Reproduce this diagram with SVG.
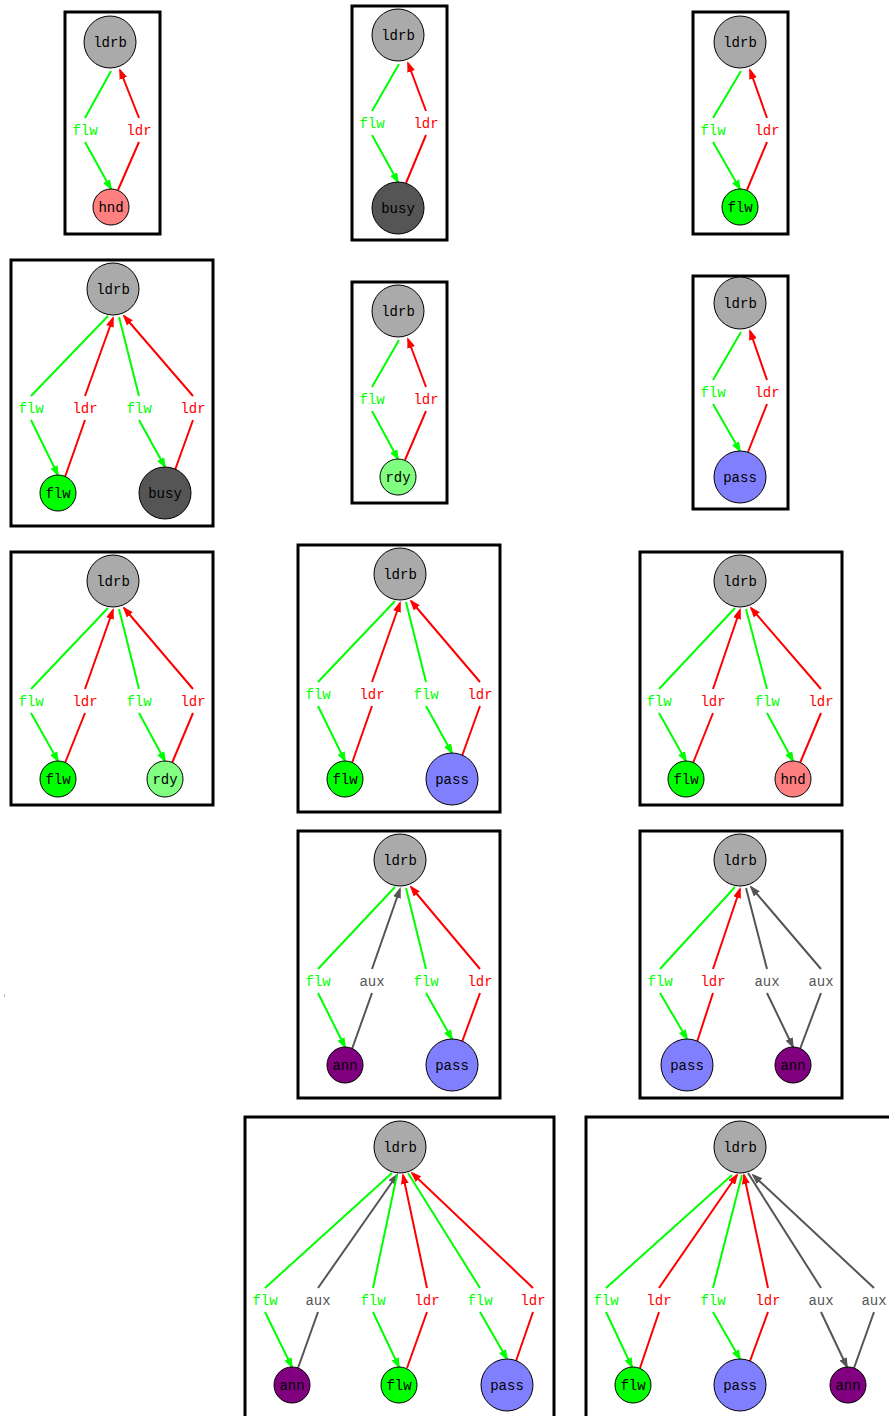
<svg xmlns="http://www.w3.org/2000/svg" width="889" height="1416" viewBox="0 0 889 1416">
<style>
.box{fill:#fff;stroke:#000;stroke-width:3}
.n{stroke:#000;stroke-width:1}
.t{font-family:"Liberation Mono","DejaVu Sans Mono",monospace;font-size:14px;text-anchor:middle;fill:#000}
.el{font-family:"Liberation Mono","DejaVu Sans Mono",monospace;font-size:14px;text-anchor:middle}
.g{fill:none;stroke:#00ff00;stroke-width:2;marker-end:url(#ag)}
.r{fill:none;stroke:#ff0000;stroke-width:2;marker-end:url(#ar)}
.a{fill:none;stroke:#555555;stroke-width:2;marker-end:url(#aa)}
.lg{fill:#00ff00}.lr{fill:#ff0000}.la{fill:#555555}
.ldrb{fill:#aaaaaa}.flw{fill:#00ff00}.busy{fill:#555555}.rdy{fill:#80ff80}.hnd{fill:#ff8080}.pass{fill:#8080ff}.ann{fill:#800080}
</style>
<defs>
<marker id="ag" markerUnits="userSpaceOnUse" markerWidth="11" markerHeight="8" viewBox="0 0 11 8" refX="9" refY="4" orient="auto"><path d="M0,0 L11,4 L0,8 z" fill="#00ff00"/></marker>
<marker id="ar" markerUnits="userSpaceOnUse" markerWidth="11" markerHeight="8" viewBox="0 0 11 8" refX="9" refY="4" orient="auto"><path d="M0,0 L11,4 L0,8 z" fill="#ff0000"/></marker>
<marker id="aa" markerUnits="userSpaceOnUse" markerWidth="11" markerHeight="8" viewBox="0 0 11 8" refX="9" refY="4" orient="auto"><path d="M0,0 L11,4 L0,8 z" fill="#555555"/></marker>
</defs>
<rect width="889" height="1416" fill="#fff"/>
<line x1="4.5" y1="994" x2="4.5" y2="997" stroke="#bbbbbb" stroke-width="1"/>

<g id="clusters">
<rect class="box" x="65" y="12" width="95" height="222"/>
<rect class="box" x="352" y="6" width="95" height="234"/>
<rect class="box" x="693" y="12" width="95" height="222"/>
<rect class="box" x="11" y="260" width="202" height="266"/>
<rect class="box" x="352" y="282" width="95" height="221"/>
<rect class="box" x="693" y="276" width="95" height="233"/>
<rect class="box" x="11" y="552" width="202" height="253"/>
<rect class="box" x="298" y="545" width="202" height="267"/>
<rect class="box" x="640" y="552" width="202" height="253"/>
<rect class="box" x="298" y="831" width="202" height="267"/>
<rect class="box" x="640" y="831" width="202" height="267"/>
<rect class="box" x="245" y="1117" width="309" height="310"/>
<rect class="box" x="586" y="1117" width="310" height="310"/>
</g>

<g id="connectors">
<!-- P1 -->
<path class="g" d="M111,71 L85,118 M85,142 L111,189"/>
<path class="r" d="M118,190 L139,142 M139,118 L120,70"/>
<!-- P2 -->
<path class="g" d="M399,64 L372,111 M372,135 L398,182"/>
<path class="r" d="M406,183 L426,135 M426,111 L408,63"/>
<!-- P3 -->
<path class="g" d="M741,71 L713,118 M713,142 L740,189"/>
<path class="r" d="M747,190 L767,142 M767,118 L750,70"/>
<!-- P5 -->
<path class="g" d="M399,340 L372,387 M372,411 L398,459"/>
<path class="r" d="M405,460 L426,411 M426,387 L408,339"/>
<!-- P6 -->
<path class="g" d="M741,332 L713,380 M713,404 L740,451"/>
<path class="r" d="M748,452 L767,404 M767,380 L750,331"/>
<!-- P4 -->
<path class="g" d="M108,316 L31,396 M31,420 L58,475"/>
<path class="r" d="M65,477 L85,420 M85,396 L113,318"/>
<path class="g" d="M119,317 L139,396 M139,420 L165,467"/>
<path class="r" d="M175,470 L193,420 M193,396 L124,316"/>
<!-- P7 -->
<path class="g" d="M108,608 L31,689 M31,713 L58,761"/>
<path class="r" d="M65,763 L85,713 M85,689 L113,610"/>
<path class="g" d="M119,609 L139,689 M139,713 L165,761"/>
<path class="r" d="M172,763 L193,713 M193,689 L124,608"/>
<!-- P8 -->
<path class="g" d="M395,601 L318,682 M318,706 L345,761"/>
<path class="r" d="M352,763 L372,706 M372,682 L400,603"/>
<path class="g" d="M406,602 L426,682 M426,706 L452,753"/>
<path class="r" d="M462,756 L480,706 M480,682 L411,601"/>
<!-- P9 -->
<path class="g" d="M735,608 L659,689 M659,713 L686,761"/>
<path class="r" d="M693,763 L713,713 M713,689 L740,610"/>
<path class="g" d="M746,609 L767,689 M767,713 L793,761"/>
<path class="r" d="M800,763 L821,713 M821,689 L751,608"/>
<!-- P10 -->
<path class="g" d="M395,887 L318,969 M318,993 L345,1047"/>
<path class="a" d="M352,1049 L372,993 M372,969 L400,889"/>
<path class="g" d="M406,888 L426,969 M426,993 L452,1039"/>
<path class="r" d="M462,1042 L480,993 M480,969 L411,887"/>
<!-- P11 -->
<path class="g" d="M735,887 L660,969 M660,993 L687,1039"/>
<path class="r" d="M697,1042 L713,993 M713,969 L740,889"/>
<path class="a" d="M746,888 L767,969 M767,993 L793,1047"/>
<path class="a" d="M800,1049 L821,993 M821,969 L751,887"/>
<!-- P12 -->
<path class="g" d="M392,1173 L265,1288 M265,1312 L292,1367"/>
<path class="a" d="M298,1368 L318,1312 M318,1288 L397,1175"/>
<path class="g" d="M397,1175 L373,1288 M373,1312 L399,1367"/>
<path class="r" d="M407,1368 L427,1312 M427,1288 L403,1175"/>
<path class="g" d="M408,1173 L480,1288 M480,1312 L507,1359"/>
<path class="r" d="M516,1361 L533,1312 M533,1288 L412,1173"/>
<!-- P13 -->
<path class="g" d="M732,1175 L606,1288 M606,1312 L632,1367"/>
<path class="r" d="M640,1368 L659,1312 M659,1288 L737,1175"/>
<path class="g" d="M742,1175 L713,1288 M713,1312 L740,1359"/>
<path class="r" d="M750,1361 L768,1312 M768,1288 L744,1175"/>
<path class="a" d="M748,1173 L821,1288 M821,1312 L847,1367"/>
<path class="a" d="M854,1368 L874,1312 M874,1288 L753,1175"/>
</g>

<g id="edge-labels">
<text class="el lg" x="85" y="135">flw</text><text class="el lr" x="139" y="135">ldr</text>
<text class="el lg" x="372" y="128">flw</text><text class="el lr" x="426" y="128">ldr</text>
<text class="el lg" x="713" y="135">flw</text><text class="el lr" x="767" y="135">ldr</text>
<text class="el lg" x="372" y="404">flw</text><text class="el lr" x="426" y="404">ldr</text>
<text class="el lg" x="713" y="397">flw</text><text class="el lr" x="767" y="397">ldr</text>
<text class="el lg" x="31" y="413">flw</text><text class="el lr" x="85" y="413">ldr</text><text class="el lg" x="139" y="413">flw</text><text class="el lr" x="193" y="413">ldr</text>
<text class="el lg" x="31" y="706">flw</text><text class="el lr" x="85" y="706">ldr</text><text class="el lg" x="139" y="706">flw</text><text class="el lr" x="193" y="706">ldr</text>
<text class="el lg" x="318" y="699">flw</text><text class="el lr" x="372" y="699">ldr</text><text class="el lg" x="426" y="699">flw</text><text class="el lr" x="480" y="699">ldr</text>
<text class="el lg" x="659" y="706">flw</text><text class="el lr" x="713" y="706">ldr</text><text class="el lg" x="767" y="706">flw</text><text class="el lr" x="821" y="706">ldr</text>
<text class="el lg" x="318" y="986">flw</text><text class="el la" x="372" y="986">aux</text><text class="el lg" x="426" y="986">flw</text><text class="el lr" x="480" y="986">ldr</text>
<text class="el lg" x="660" y="986">flw</text><text class="el lr" x="713" y="986">ldr</text><text class="el la" x="767" y="986">aux</text><text class="el la" x="821" y="986">aux</text>
<text class="el lg" x="265" y="1305">flw</text><text class="el la" x="318" y="1305">aux</text><text class="el lg" x="373" y="1305">flw</text><text class="el lr" x="427" y="1305">ldr</text><text class="el lg" x="480" y="1305">flw</text><text class="el lr" x="533" y="1305">ldr</text>
<text class="el lg" x="606" y="1305">flw</text><text class="el lr" x="659" y="1305">ldr</text><text class="el lg" x="713" y="1305">flw</text><text class="el lr" x="768" y="1305">ldr</text><text class="el la" x="821" y="1305">aux</text><text class="el la" x="874" y="1305">aux</text>
</g>

<g id="p1-ldrb"><circle class="n ldrb" cx="110" cy="42" r="26"/><text class="t" x="110" y="47">ldrb</text></g>
<g id="p1-hnd"><circle class="n hnd" cx="111" cy="207" r="18"/><text class="t" x="111" y="212">hnd</text></g>
<g id="p2-ldrb"><circle class="n ldrb" cx="398" cy="35" r="26"/><text class="t" x="398" y="40">ldrb</text></g>
<g id="p2-busy"><circle class="n busy" cx="398" cy="208" r="26"/><text class="t" x="398" y="213">busy</text></g>
<g id="p3-ldrb"><circle class="n ldrb" cx="740" cy="42" r="26"/><text class="t" x="740" y="47">ldrb</text></g>
<g id="p3-flw"><circle class="n flw" cx="740" cy="207" r="18"/><text class="t" x="740" y="212">flw</text></g>
<g id="p4-ldrb"><circle class="n ldrb" cx="113" cy="289" r="26"/><text class="t" x="113" y="294">ldrb</text></g>
<g id="p4-flw"><circle class="n flw" cx="58" cy="493" r="18"/><text class="t" x="58" y="498">flw</text></g>
<g id="p4-busy"><circle class="n busy" cx="165" cy="493" r="26"/><text class="t" x="165" y="498">busy</text></g>
<g id="p5-ldrb"><circle class="n ldrb" cx="398" cy="311" r="26"/><text class="t" x="398" y="316">ldrb</text></g>
<g id="p5-rdy"><circle class="n rdy" cx="398" cy="477" r="18"/><text class="t" x="398" y="482">rdy</text></g>
<g id="p6-ldrb"><circle class="n ldrb" cx="740" cy="303" r="26"/><text class="t" x="740" y="308">ldrb</text></g>
<g id="p6-pass"><circle class="n pass" cx="740" cy="477" r="26"/><text class="t" x="740" y="482">pass</text></g>
<g id="p7-ldrb"><circle class="n ldrb" cx="113" cy="581" r="26"/><text class="t" x="113" y="586">ldrb</text></g>
<g id="p7-flw"><circle class="n flw" cx="58" cy="779" r="18"/><text class="t" x="58" y="784">flw</text></g>
<g id="p7-rdy"><circle class="n rdy" cx="165" cy="779" r="18"/><text class="t" x="165" y="784">rdy</text></g>
<g id="p8-ldrb"><circle class="n ldrb" cx="400" cy="574" r="26"/><text class="t" x="400" y="579">ldrb</text></g>
<g id="p8-flw"><circle class="n flw" cx="345" cy="779" r="18"/><text class="t" x="345" y="784">flw</text></g>
<g id="p8-pass"><circle class="n pass" cx="452" cy="779" r="26"/><text class="t" x="452" y="784">pass</text></g>
<g id="p9-ldrb"><circle class="n ldrb" cx="740" cy="581" r="26"/><text class="t" x="740" y="586">ldrb</text></g>
<g id="p9-flw"><circle class="n flw" cx="686" cy="779" r="18"/><text class="t" x="686" y="784">flw</text></g>
<g id="p9-hnd"><circle class="n hnd" cx="793" cy="779" r="18"/><text class="t" x="793" y="784">hnd</text></g>
<g id="p10-ldrb"><circle class="n ldrb" cx="400" cy="860" r="26"/><text class="t" x="400" y="865">ldrb</text></g>
<g id="p10-ann"><circle class="n ann" cx="345" cy="1065" r="18"/><text class="t" x="345" y="1070">ann</text></g>
<g id="p10-pass"><circle class="n pass" cx="452" cy="1065" r="26"/><text class="t" x="452" y="1070">pass</text></g>
<g id="p11-ldrb"><circle class="n ldrb" cx="740" cy="860" r="26"/><text class="t" x="740" y="865">ldrb</text></g>
<g id="p11-pass"><circle class="n pass" cx="687" cy="1065" r="26"/><text class="t" x="687" y="1070">pass</text></g>
<g id="p11-ann"><circle class="n ann" cx="793" cy="1065" r="18"/><text class="t" x="793" y="1070">ann</text></g>
<g id="p12-ldrb"><circle class="n ldrb" cx="400" cy="1147" r="26"/><text class="t" x="400" y="1152">ldrb</text></g>
<g id="p12-ann"><circle class="n ann" cx="292" cy="1385" r="18"/><text class="t" x="292" y="1390">ann</text></g>
<g id="p12-flw"><circle class="n flw" cx="399" cy="1385" r="18"/><text class="t" x="399" y="1390">flw</text></g>
<g id="p12-pass"><circle class="n pass" cx="507" cy="1385" r="26"/><text class="t" x="507" y="1390">pass</text></g>
<g id="p13-ldrb"><circle class="n ldrb" cx="740" cy="1147" r="26"/><text class="t" x="740" y="1152">ldrb</text></g>
<g id="p13-flw"><circle class="n flw" cx="633" cy="1385" r="18"/><text class="t" x="633" y="1390">flw</text></g>
<g id="p13-pass"><circle class="n pass" cx="740" cy="1385" r="26"/><text class="t" x="740" y="1390">pass</text></g>
<g id="p13-ann"><circle class="n ann" cx="848" cy="1385" r="18"/><text class="t" x="848" y="1390">ann</text></g>
</svg>
